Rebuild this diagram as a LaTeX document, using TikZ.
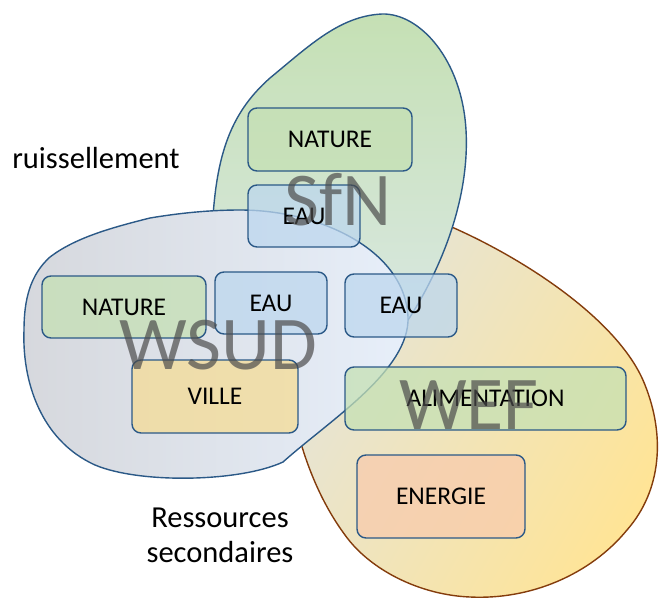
\documentclass[tikz,border=0pt]{standalone}
\usepackage{fontspec}
\setmainfont{Carlito}
\usetikzlibrary{positioning}
\definecolor{NxBlue}{RGB}{43,89,135}
\definecolor{NxBrown}{RGB}{132,60,12}
\definecolor{NxGreen}{RGB}{197,224,180}
\definecolor{NxWater}{RGB}{189,215,238}
\definecolor{NxCity}{RGB}{245,220,150}
\definecolor{NxPeach}{RGB}{248,203,173}
\definecolor{NxSfnLow}{RGB}{218,232,228}
\definecolor{NxWsudL}{RGB}{214,216,221}
\definecolor{NxWsudR}{RGB}{231,239,250}
\definecolor{NxWefA}{RGB}{228,228,218}
\definecolor{NxWefB}{RGB}{255,228,150}
\tikzset{
  nx/blob/.style={
    draw=NxBlue,
    line width=1.4pt
  },
  nx/box/.style={
    draw=NxBlue,
    line width=1.4pt,
    rounded corners=9pt,
    fill opacity=0.75,
    text opacity=1,
    align=center,
    text=black,
    inner sep=0pt,
    font=\fontsize{25.5}{30}\selectfont
  },
  nx/big/.style={
    text=black!70,
    text opacity=0.7,
    inner sep=0pt,
    font=\fontsize{76}{80}\selectfont
  },
  nx/label/.style={
    text=black,
    align=center,
    inner sep=0pt,
    font=\fontsize{30.5}{35}\selectfont
  }
}

\begin{document}
\begin{tikzpicture}[x=1pt,y=-1pt]
  \useasboundingbox (0,0) rectangle (661,597);
  % WEF
  \draw[nx/blob,draw=NxBrown,top color=NxWefA,bottom color=NxWefB,shading angle=60]
    (440,222) .. controls (520,255) and (620,320) .. (645,385)
    .. controls (665,435) and (662,490) .. (627,530)
    .. controls (590,575) and (530,600) .. (470,597)
    .. controls (420,595) and (370,570) .. (345,535)
    .. controls (325,508) and (310,475) .. (300,440)
    .. controls (290,400) and (370,262) .. cycle;
  % SfN
  \draw[nx/blob,top color=NxGreen,bottom color=NxSfnLow]
    (212,235) .. controls (215,160) and (228,115) .. (270,78)
    .. controls (310,45) and (340,16) .. (382,14)
    .. controls (420,13) and (462,60) .. (466,130)
    .. controls (470,200) and (440,270) .. (410,317)
    .. controls (395,345) and (300,330) .. (260,295)
    .. controls (230,268) and (212,255) .. cycle;
  % WSUD
  \draw[nx/blob,left color=NxWsudL,right color=NxWsudR]
    (240,210) .. controls (320,210) and (405,250) .. (408,317)
    .. controls (410,370) and (330,420) .. (283,462)
    .. controls (240,482) and (140,484) .. (95,465)
    .. controls (40,440) and (22,380) .. (24,330)
    .. controls (24,300) and (30,275) .. (50,257)
    .. controls (75,238) and (110,228) .. (150,218)
    .. controls (180,213) and (210,210) .. cycle;
  % boxes
  \node[nx/box,fill=NxGreen,minimum width=164pt,minimum height=63pt] (natSfn) at (330,139.5) {NATURE};
  \node[nx/box,fill=NxWater,minimum width=112pt,minimum height=62pt] (eauSfn) at (304,216) {EAU};
  \node[nx/box,fill=NxGreen,minimum width=164pt,minimum height=62pt] (natWsud) at (124,307) {NATURE};
  \node[nx/box,fill=NxWater,minimum width=112pt,minimum height=62pt] (eauWsud) at (271,303) {EAU};
  \node[nx/box,fill=NxWater,minimum width=112pt,minimum height=63pt] (eauWef) at (401,305.5) {EAU};
  \node[nx/box,fill=NxCity,minimum width=166pt,minimum height=73pt] (ville) at (215,396.5) {VILLE};
  \node[nx/box,fill=NxGreen,minimum width=281pt,minimum height=63pt] (alim) at (485.5,398.5) {ALIMENTATION};
  \node[nx/box,fill=NxPeach,minimum width=168pt,minimum height=83pt] (energie) at (441,496.5) {ENERGIE};
  % nexus names
  \node[nx/big] (sfn) at (338,200) {SfN};
  \node[nx/big] (wsud) at (218,345) {WSUD};
  \node[nx/big] (wef) at (469,405) {WEF};
  % flows
  \node[nx/label,anchor=base] (ruis) at (96,168) {ruissellement};
  \node[nx/label,anchor=base] (ress) at (220,562) {Ressources\\secondaires};
\end{tikzpicture}
\end{document}
